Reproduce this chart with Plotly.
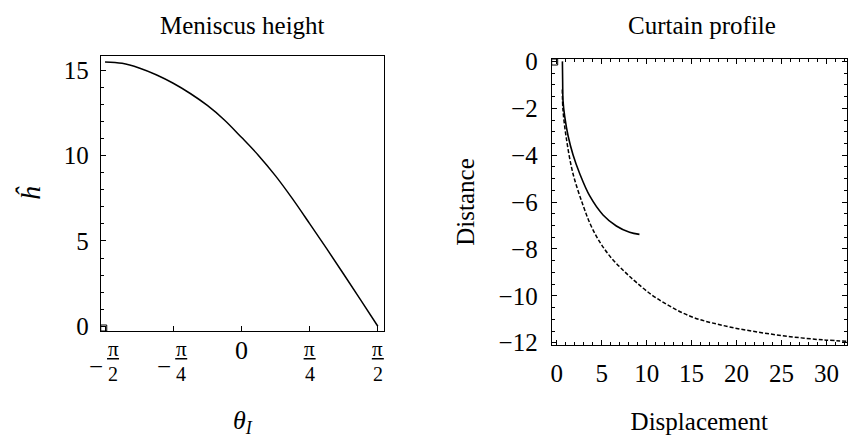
import plotly.graph_objects as go

# ---------------- data ----------------
# Left panel: meniscus height vs theta_I
theta = [-1.5708, -1.3744, -1.1781, -0.9817, -0.7854, -0.5890, -0.3927, -0.1963,
         0.0, 0.1963, 0.3927, 0.5890, 0.7854, 0.9817, 1.1781, 1.3744, 1.5708]
h_hat = [15.5, 15.42, 15.15, 14.75, 14.25, 13.65, 12.95, 12.1,
         11.08, 10.02, 8.82, 7.47, 6.02, 4.55, 3.05, 1.53, 0.0]

# Right panel: curtain profile (solid and dashed)
solid_x = [0.63, 0.66, 0.70, 0.89, 1.26, 1.81, 2.56, 3.67, 5.15, 6.63, 8.10, 9.20]
solid_y = [0.0, -0.9, -1.69, -2.36, -3.17, -3.98, -4.79, -5.74, -6.55, -7.02, -7.29, -7.38]

dashed_x = [0.62, 0.70, 1.08, 1.81, 2.93, 3.80, 4.78, 6.0, 7.5, 8.92, 11.1, 14.85,
            18.56, 22.26, 25.97, 29.67, 32.6]
dashed_y = [-1.2, -2.09, -3.31, -4.79, -6.14, -7.0, -7.7, -8.35, -8.95, -9.45, -10.1, -10.87,
            -11.27, -11.54, -11.74, -11.88, -11.94]

left_xticks = [-1.5708, -0.7854, 0.0, 0.7854, 1.5708]
left_xtick_num = ["π", "π", "0", "π", "π"]
left_xtick_den = ["2", "4", "", "4", "2"]
left_xtick_sign = ["−", "−", "", "", ""]
left_yticks = [0, 5, 10, 15]

LEFT_XRANGE = [-1.620, 1.643]
LEFT_YRANGE = [-0.28, 15.86]
RIGHT_XRANGE = [-0.56, 32.28]
RIGHT_YRANGE = [-12.09, 0.1]

W, H = 848, 439
FONT = "Liberation Serif"


def px(x):
    return x / W


def py(y):
    return 1 - y / H


fig = go.Figure()
fig.add_trace(go.Scatter(x=theta, y=h_hat, mode="lines", line_shape="spline",
                         line=dict(color="black", width=1.5),
                         xaxis="x", yaxis="y", showlegend=False))
fig.add_trace(go.Scatter(x=dashed_x, y=dashed_y, mode="lines", line_shape="spline",
                         line=dict(color="black", width=1.5, dash="4px,2px"),
                         xaxis="x2", yaxis="y2", showlegend=False))
fig.add_trace(go.Scatter(x=solid_x, y=solid_y, mode="lines", line_shape="spline",
                         line=dict(color="black", width=1.6),
                         xaxis="x2", yaxis="y2", showlegend=False))

axis_common = dict(showline=True, linecolor="black", linewidth=1, showgrid=False,
                   zeroline=False, ticks="inside", tickcolor="black", ticklen=5,
                   tickfont=dict(family=FONT, size=25, color="black"))

annotations = []
shapes = []
# titles
annotations.append(dict(text="Meniscus height", x=(px(100) + px(384)) / 2, y=1.0,
                        xref="paper", yref="paper", showarrow=False,
                        xanchor="center", yanchor="top", yshift=1,
                        font=dict(family=FONT, size=25, color="black")))
annotations.append(dict(text="Curtain profile", x=px(703), y=1.0,
                        xref="paper", yref="paper", showarrow=False,
                        xanchor="center", yanchor="top", yshift=1,
                        font=dict(family=FONT, size=25, color="black")))
# fraction tick labels for the left x axis
for tv, num, den, sg in zip(left_xticks, left_xtick_num, left_xtick_den, left_xtick_sign):
    if den == "":
        annotations.append(dict(text=num, x=tv, y=py(358), xref="x", yref="paper",
                                showarrow=False, xanchor="center", yanchor="middle",
                                font=dict(family=FONT, size=26, color="black")))
        continue
    shift = 8 if sg else 0
    annotations.append(dict(text=num, x=tv, y=py(357), xref="x", yref="paper",
                            showarrow=False, xanchor="center", yanchor="middle",
                            xshift=shift,
                            font=dict(family=FONT, size=21, color="black")))
    annotations.append(dict(text=den, x=tv, y=py(383), xref="x", yref="paper",
                            showarrow=False, xanchor="center", yanchor="middle",
                            xshift=shift,
                            font=dict(family=FONT, size=20, color="black")))
    shapes.append(dict(type="line", xref="x", yref="paper", xsizemode="pixel",
                       xanchor=tv, x0=shift - 6, x1=shift + 6,
                       y0=py(367), y1=py(367),
                       line=dict(color="black", width=1.5)))
    if sg:
        annotations.append(dict(text=sg, x=tv, y=py(375), xref="x", yref="paper",
                                showarrow=False, xanchor="center", yanchor="middle",
                                xshift=-9,
                                font=dict(family=FONT, size=25, color="black")))

# small corner squares of the frames
shapes.append(dict(type="rect", xref="x", yref="y", xsizemode="pixel", ysizemode="pixel",
                   xanchor=LEFT_XRANGE[0], yanchor=LEFT_YRANGE[0],
                   x0=0, x1=6, y0=0, y1=6, line=dict(color="black", width=1)))
shapes.append(dict(type="rect", xref="x2", yref="y2", xsizemode="pixel", ysizemode="pixel",
                   xanchor=RIGHT_XRANGE[0], yanchor=RIGHT_YRANGE[1],
                   x0=0, x1=6, y0=-6, y1=0, line=dict(color="black", width=1)))

fig.update_layout(
    width=W, height=H, margin=dict(l=0, r=0, t=0, b=0),
    paper_bgcolor="white", plot_bgcolor="white",
    font=dict(family=FONT, color="black"),
    xaxis=dict(axis_common, domain=[px(100), px(384)], range=LEFT_XRANGE,
               mirror=True, tickvals=left_xticks, showticklabels=False,
               title=dict(text="<i>θ<sub>I</sub></i>", standoff=79,
                          font=dict(family=FONT, size=26, color="black")),
               anchor="y"),
    yaxis=dict(axis_common, domain=[py(337.7), py(47.3)], range=LEFT_YRANGE,
               mirror=True, tickvals=left_yticks, ticklabelstandoff=6,
               minor=dict(ticks="inside", dtick=1, ticklen=3, tickcolor="black"),
               title=dict(text="<i>ĥ</i>", standoff=14,
                          font=dict(family=FONT, size=28, color="black")),
               anchor="x"),
    xaxis2=dict(axis_common, domain=[px(552), 1.0], range=RIGHT_XRANGE,
                mirror="ticks", dtick=5, tick0=0, ticklabelstandoff=6,
                minor=dict(ticks="inside", dtick=1, ticklen=3, tickcolor="black"),
                title=dict(text="Displacement", standoff=26,
                           font=dict(family=FONT, size=25, color="black")),
                anchor="y2"),
    yaxis2=dict(axis_common, domain=[py(352.3), py(50.7)], range=RIGHT_YRANGE,
                mirror="ticks", dtick=2, tick0=0, ticklabelstandoff=8,
                minor=dict(ticks="inside", dtick=0.5, ticklen=3, tickcolor="black"),
                title=dict(text="Distance", standoff=16,
                           font=dict(family=FONT, size=25, color="black")),
                anchor="x2"),
    annotations=annotations,
    shapes=shapes,
)

fig.write_html("out.html")
